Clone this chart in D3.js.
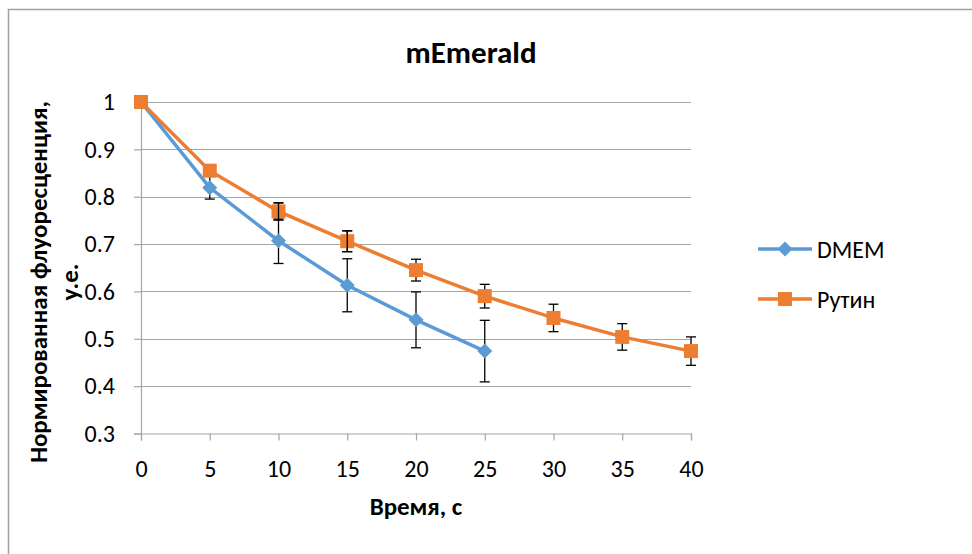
<!DOCTYPE html>
<html><head><meta charset="utf-8">
<script src="https://cdn.jsdelivr.net/npm/d3@7"></script>
<style>
html,body{margin:0;padding:0;background:#fff;}
svg{display:block;font-family:Carlito,Lato,"Open Sans",sans-serif;}
</style></head>
<body>
<svg id="chart" width="972" height="554"></svg>
<script>
const times = [0, 5, 10, 15, 20, 25, 30, 35, 40];
const dmemValues = [1.0, 0.819, 0.707, 0.613, 0.540, 0.474];
const dmemErrors = [0, 0.024, 0.048, 0.056, 0.059, 0.065];
const rutinValues = [1.0, 0.855, 0.769, 0.706, 0.645, 0.590, 0.544, 0.504, 0.474];
const rutinErrors = [0, 0.010, 0.018, 0.022, 0.023, 0.025, 0.029, 0.028, 0.030];
const yTicks = [0.3, 0.4, 0.5, 0.6, 0.7, 0.8, 0.9, 1];
const xTicks = [0, 5, 10, 15, 20, 25, 30, 35, 40];
const seriesNames = ["DMEM", "Рутин"];
const colors = ["#5B9BD5", "#ED7D31"];

const FONT = "Carlito,Lato,'Open Sans',sans-serif";
const svg = d3.select("#chart");
const gridColor = "#a6a6a6";

// outer border (open at right/bottom as in reference)
svg.append("path").attr("d", "M8.5,554 V9.5 H972").attr("fill","none")
  .attr("stroke", "#a0a0a0").attr("stroke-width", 1.5);

const x = d3.scaleLinear().domain([0, 40]).range([141, 691]);
const y = d3.scaleLinear().domain([0.3, 1]).range([433.5, 102]);

// gridlines
svg.append("g").selectAll("line").data(yTicks.filter(t => t > 0.3)).join("line")
  .attr("x1", x(0)).attr("x2", x(40))
  .attr("y1", d => Math.round(y(d)) + 0.5).attr("y2", d => Math.round(y(d)) + 0.5)
  .attr("stroke", gridColor).attr("stroke-width", 1.2);

// y axis
const yAxis = d3.axisLeft(y).tickValues(yTicks).tickSize(7).tickPadding(19)
  .tickFormat(d => d === 1 ? "1" : d3.format(".1f")(d));
const gy = svg.append("g").attr("transform", `translate(${x(0)},0)`).call(yAxis);
gy.select(".domain").attr("stroke", gridColor).attr("stroke-width", 1.2);
gy.selectAll(".tick line").attr("stroke", gridColor).attr("stroke-width", 1.2);
gy.selectAll(".tick text").attr("fill", "#000").style("font-size", "24px")
  .style("font-family", FONT);

// x axis
const xAxis = d3.axisBottom(x).tickValues(xTicks).tickSize(7).tickPadding(19);
const gx = svg.append("g").attr("transform", `translate(0,${y(0.3)})`).call(xAxis);
gx.select(".domain").attr("stroke", gridColor).attr("stroke-width", 1.2);
gx.selectAll(".tick line").attr("stroke", gridColor).attr("stroke-width", 1.2);
gx.selectAll(".tick text").attr("fill", "#000").style("font-size", "24px")
  .style("font-family", FONT);

// error bars
function errorBars(vals, errs) {
  const g = svg.append("g").attr("stroke", "#000").attr("stroke-width", 1.3);
  vals.forEach((v, i) => {
    const e = errs[i];
    if (!e) return;
    const cx = x(times[i]);
    g.append("line").attr("x1", cx).attr("x2", cx).attr("y1", y(v + e)).attr("y2", y(v - e));
    g.append("line").attr("x1", cx - 5).attr("x2", cx + 5).attr("y1", y(v + e)).attr("y2", y(v + e));
    g.append("line").attr("x1", cx - 5).attr("x2", cx + 5).attr("y1", y(v - e)).attr("y2", y(v - e));
  });
}
errorBars(dmemValues, dmemErrors);
errorBars(rutinValues, rutinErrors);

const line = d3.line().x((d, i) => x(times[i])).y(d => y(d));

// DMEM
svg.append("path").datum(dmemValues).attr("d", line).attr("fill", "none")
  .attr("stroke", colors[0]).attr("stroke-width", 3.5).attr("stroke-linejoin", "round");
svg.append("g").selectAll("path").data(dmemValues).join("path")
  .attr("d", "M0,-7.5L7.5,0L0,7.5L-7.5,0Z")
  .attr("transform", (d, i) => `translate(${x(times[i])},${y(d)})`)
  .attr("fill", colors[0]);

// Rutin
svg.append("path").datum(rutinValues).attr("d", line).attr("fill", "none")
  .attr("stroke", colors[1]).attr("stroke-width", 3.5).attr("stroke-linejoin", "round");
svg.append("g").selectAll("rect").data(rutinValues).join("rect")
  .attr("x", (d, i) => x(times[i]) - 7).attr("y", d => y(d) - 7)
  .attr("width", 14).attr("height", 14).attr("fill", colors[1]);

// caps visible over markers where the reference shows them
errorBars(rutinValues, rutinErrors.map((e,i)=> i===2||i===3 ? e : 0));

// title
svg.append("text").attr("x", 471).attr("y", 63).attr("text-anchor", "middle")
  .style("font-size", "31px").style("font-weight", "bold").text("mEmerald");

// axis titles
svg.append("text").attr("x", 416).attr("y", 515).attr("text-anchor", "middle")
  .style("font-size", "25px").style("font-weight", "bold").text("Время, с");
const yl = svg.append("text").attr("transform", "translate(47,282) rotate(-90)")
  .attr("text-anchor", "middle").style("font-size", "25px").style("font-weight", "bold");
yl.append("tspan").attr("x", 0).attr("y", 0).text("Нормированная флуоресценция,");
yl.append("tspan").attr("x", 0).attr("y", 31).text("у.е.");

// legend
const legend = svg.append("g");
seriesNames.forEach((name, i) => {
  const ly = 249 + i * 50;
  legend.append("line").attr("x1", 758).attr("x2", 812).attr("y1", ly).attr("y2", ly)
    .attr("stroke", colors[i]).attr("stroke-width", 3.5);
  if (i === 0) {
    legend.append("path").attr("d", "M0,-7.5L7.5,0L0,7.5L-7.5,0Z")
      .attr("transform", `translate(785,${ly})`).attr("fill", colors[i]);
  } else {
    legend.append("rect").attr("x", 778).attr("y", ly - 7).attr("width", 14).attr("height", 14)
      .attr("fill", colors[i]);
  }
  legend.append("text").attr("x", 817).attr("y", ly + 8.5).style("font-size", "24px").text(name);
});
</script>
</body></html>
